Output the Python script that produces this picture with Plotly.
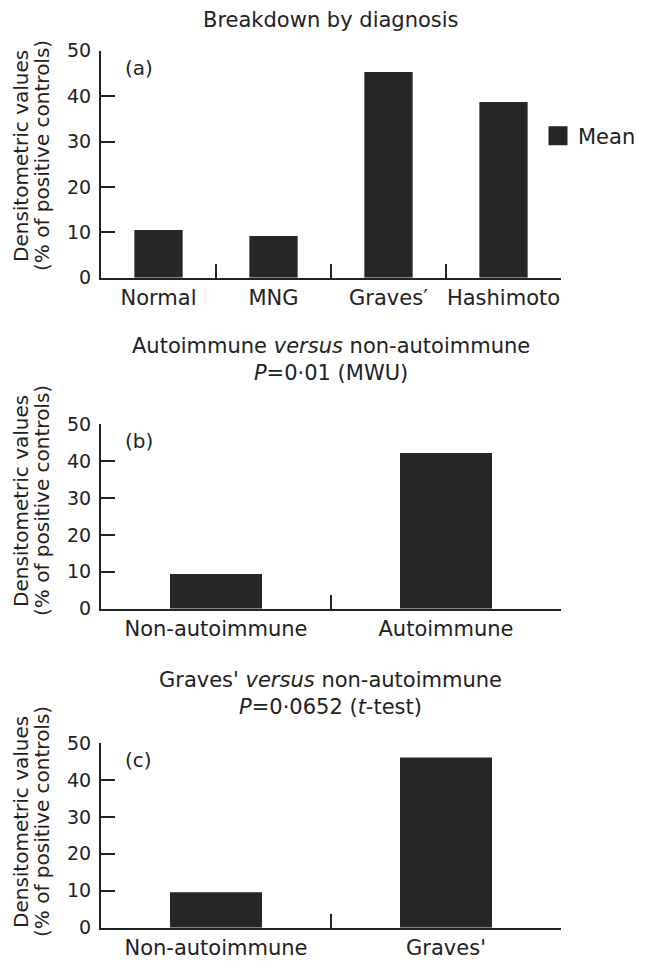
import plotly.graph_objects as go

# ---- data ----
cats_a = ["Normal", "MNG", "Graves\u2032", "Hashimoto"]
vals_a = [10.5, 9.2, 45.3, 38.7]

cats_b = ["Non-autoimmune", "Autoimmune"]
vals_b = [9.4, 42.2]

cats_c = ["Non-autoimmune", "Graves'"]
vals_c = [9.6, 46.1]

y_ticks = [0, 10, 20, 30, 40, 50]

title_a = "Breakdown by diagnosis"
title_b = "Autoimmune <i>versus</i> non-autoimmune<br><i>P</i>=0\u00b701 (MWU)"
title_c = "Graves' <i>versus</i> non-autoimmune<br><i>P</i>=0\u00b70652 (<i>t</i>-test)"
y_title_1 = "Densitometric values"
y_title_2 = "(% of positive controls)"

# ---- style ----
W, H = 651, 970
BAR = "#262626"
INK = "#222222"
FONT = "DejaVu Sans"

def py(p):
    return 1 - p / H

x_dom = [101 / W, 561 / W]
y_doms = [
    [py(277.7), py(50.7)],
    [py(608.7), py(424.3)],
    [py(927.7), py(743.0)],
]

fig = go.Figure()

panels = [(cats_a, vals_a, 0.42), (cats_b, vals_b, 0.40), (cats_c, vals_c, 0.40)]
for i, (cats, vals, bw) in enumerate(panels):
    sfx = "" if i == 0 else str(i + 1)
    fig.add_trace(go.Bar(
        x=cats, y=vals, width=[bw] * len(cats),
        marker=dict(color=BAR, line=dict(width=0)),
        xaxis="x" + sfx, yaxis="y" + sfx, showlegend=False, name="Mean",
    ))

# legend entry (Mean)
fig.add_trace(go.Scatter(
    x=[None], y=[None], mode="markers", name="Mean",
    marker=dict(symbol="square", size=16, color=BAR, line=dict(color=BAR, width=3)),
    xaxis="x", yaxis="y", showlegend=True,
))

axis_common_x = dict(
    type="category", showline=True, linewidth=2, linecolor=INK,
    ticks="inside", ticklen=14, tickwidth=1.5, tickcolor=INK,
    tickson="boundaries", showgrid=False, zeroline=False, tickangle=0,
    automargin=False,
    tickfont=dict(family=FONT, size=21, color=INK), fixedrange=True,
)
axis_common_y = dict(
    range=[0, 50], tickvals=y_ticks, showline=True, linewidth=2, linecolor=INK,
    ticks="inside", ticklen=14, tickwidth=1.5, tickcolor=INK,
    showgrid=False, zeroline=False, ticklabelstandoff=4, automargin=False,
    tickfont=dict(family=FONT, size=19, color=INK),
    fixedrange=True,
)

layout = dict(
    width=W, height=H, autosize=False,
    margin=dict(l=0, r=0, t=0, b=0, autoexpand=False),
    paper_bgcolor="white", plot_bgcolor="white",
    font=dict(family=FONT, color=INK),
    showlegend=True,
    legend=dict(x=538 / W, y=py(136), xanchor="left", yanchor="middle",
                font=dict(family=FONT, size=21, color=INK),
                bgcolor="rgba(0,0,0,0)", itemsizing="trace"),
    bargap=0.5,
)
for i in range(3):
    sfx = "" if i == 0 else str(i + 1)
    layout["xaxis" + sfx] = dict(axis_common_x, domain=x_dom, anchor="y" + sfx)
    layout["yaxis" + sfx] = dict(axis_common_y, domain=y_doms[i], anchor="x" + sfx)

fig.update_layout(**layout)

# panel titles
titles = [(title_a, 20), (title_b, 359), (title_c, 693)]
for t, yc in titles:
    fig.add_annotation(text=t, xref="paper", yref="paper", x=331 / W, y=py(yc),
                       xanchor="center", yanchor="middle", showarrow=False,
                       font=dict(family=FONT, size=21, color=INK), align="center")

# y-axis titles (two lines, rotated)
ytitle_centers = [156, 501, 822]
for yc in ytitle_centers:
    for txt, xc in [(y_title_1, 21), (y_title_2, 42)]:
        fig.add_annotation(text=txt, xref="paper", yref="paper", x=xc / W, y=py(yc),
                           xanchor="center", yanchor="middle", textangle=-90,
                           showarrow=False, font=dict(family=FONT, size=20, color=INK))

# panel letters
for i, lab in enumerate(["(a)", "(b)", "(c)"]):
    sfx = "" if i == 0 else str(i + 1)
    fig.add_annotation(text=lab, xref="x" + sfx + " domain", yref="y" + sfx + " domain",
                       x=0, y=1, xanchor="left", yanchor="middle", xshift=22, yshift=-17,
                       showarrow=False, font=dict(family=FONT, size=20, color=INK))

fig.write_html("out.html", config={"displayModeBar": False},
               post_script="document.body.style.margin='0px';document.body.style.overflow='hidden';")
